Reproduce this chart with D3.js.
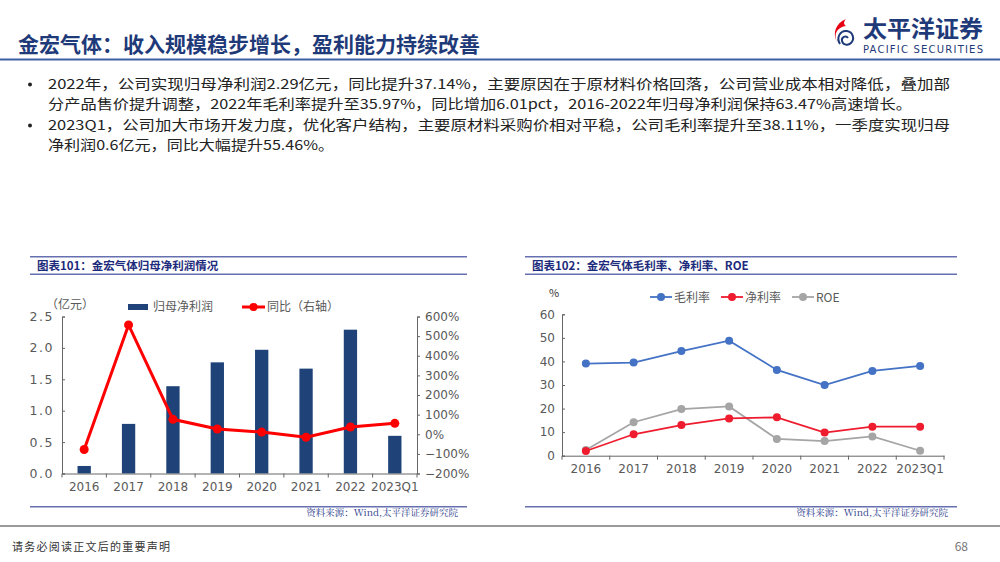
<!DOCTYPE html>
<html>
<head>
<meta charset="utf-8">
<script src="https://cdn.jsdelivr.net/npm/d3@7"></script>
<style>
  body { margin: 0; background: #fff; }
  svg { display: block; font-family: "Noto Sans CJK SC", "Noto Sans", sans-serif; }
</style>
</head>
<body>
<svg id="page" width="1000" height="562"></svg>
<script>
// data
var years = ['2016', '2017', '2018', '2019', '2020', '2021', '2022', '2023Q1'];
var netProfit = [0.12, 0.79, 1.39, 1.77, 1.97, 1.67, 2.29, 0.60];      // 亿元
var profitYoy = [-77.5, 557, 76, 27, 11, -15.5, 37.14, 55.46];         // %
var grossMargin = [39.1, 39.5, 44.4, 48.8, 36.4, 30.0, 35.97, 38.11];
var netMargin = [2.0, 9.1, 13.0, 15.8, 16.3, 9.8, 12.3, 12.3];
var roe = [2.4, 14.2, 19.8, 20.9, 7.1, 6.2, 8.2, 2.1];
var leftTicks = [0, 0.5, 1.0, 1.5, 2.0, 2.5];
var rightTicks = [-200, -100, 0, 100, 200, 300, 400, 500, 600];
var pctTicks = [0, 10, 20, 30, 40, 50, 60];

var bullets = [
  ['2022年，公司实现归母净利润2.29亿元，同比提升37.14%，主要原因在于原材料价格回落，公司营业成本相对降低，叠加部',
   '分产品售价提升调整，2022年毛利率提升至35.97%，同比增加6.01pct，2016-2022年归母净利润保持63.47%高速增长。'],
  ['2023Q1，公司加大市场开发力度，优化客户结构，主要原材料采购价相对平稳，公司毛利率提升至38.11%，一季度实现归母',
   '净利润0.6亿元，同比大幅提升55.46%。']
];
// rendered widths of each bullet line, so the wrap matches the page
var lineWidths = [[902, 864], [902, 286]];

var navy = '#1f3a78';
var tickColor = '#595959';
var svg = d3.select('#page');

// ---------- header ----------
svg.append('text')
    .attr('x', 18).attr('y', 52)
    .attr('font-size', 21).attr('font-weight', 'bold')
    .attr('fill', navy)
    .text('金宏气体：收入规模稳步增长，盈利能力持续改善');

svg.append('rect')
    .attr('x', 0).attr('y', 58.5).attr('width', 1000).attr('height', 2)
    .attr('fill', '#3d5fa3');

// logo
var logo = svg.append('g');
logo.append('path')
    .attr('d', 'M846,19 C836,23 832,33 837,42 C833,33 838,27 846,26 C843,24 844,21 846,19 Z')
    .attr('fill', '#e60012');
logo.append('path')
    .attr('d', 'M840,44 C836,38 840,30 847,31 C853,32 855,39 851,43 C848,46 843,45 842,41 C841,37 846,35 848,38')
    .attr('fill', 'none').attr('stroke', '#1f3a78').attr('stroke-width', 2);
logo.append('text')
    .attr('x', 863).attr('y', 37)
    .attr('font-size', 23).attr('font-weight', 'bold')
    .attr('textLength', 120).attr('lengthAdjust', 'spacingAndGlyphs')
    .attr('fill', navy)
    .text('太平洋证券');
logo.append('text')
    .attr('x', 863).attr('y', 52.5)
    .attr('font-size', 10).attr('font-family', 'DejaVu Sans')
    .attr('textLength', 120).attr('lengthAdjust', 'spacing')
    .attr('fill', navy)
    .text('PACIFIC SECURITIES');

// ---------- bullets ----------
var bulletY = [89, 130];
bullets.forEach(function(lines, i) {
  svg.append('circle')
      .attr('cx', 30).attr('cy', bulletY[i] - 4.5).attr('r', 2)
      .attr('fill', '#222');
  lines.forEach(function(line, j) {
    svg.append('text')
        .attr('x', 48).attr('y', bulletY[i] + j * 20)
        .attr('font-size', 13.5)
        .attr('fill', '#222')
        .attr('textLength', lineWidths[i][j]).attr('lengthAdjust', 'spacingAndGlyphs')
        .text(line);
  });
});

// ---------- panel frames ----------
function panelFrame(x0, x1, title) {
  svg.append('rect').attr('x', x0).attr('y', 256).attr('width', x1 - x0).attr('height', 1.5).attr('fill', '#6670b0');
  svg.append('rect').attr('x', x0).attr('y', 273.5).attr('width', x1 - x0).attr('height', 1.5).attr('fill', '#6670b0');
  svg.append('rect').attr('x', x0).attr('y', 506).attr('width', x1 - x0).attr('height', 1.5).attr('fill', '#6670b0');
  svg.append('text')
      .attr('x', x0 + 7).attr('y', 270)
      .attr('font-size', 11.5).attr('font-weight', 'bold')
      .attr('fill', '#1d2b7c')
      .text(title);
  svg.append('text')
      .attr('x', x1 - 9).attr('y', 516)
      .attr('text-anchor', 'end')
      .attr('font-size', 9.5)
      .attr('font-family', '"Noto Serif CJK SC", "Noto Sans CJK SC", serif')
      .attr('fill', '#2a3a8a')
      .text('资料来源：Wind,太平洋证券研究院');
}
panelFrame(30, 467, '图表101：金宏气体归母净利润情况');
panelFrame(525, 957, '图表102：金宏气体毛利率、净利率、ROE');

// ---------- left chart ----------
var x1 = d3.scaleBand().domain(years).range([62, 417]);
var yL = d3.scaleLinear().domain([0, 2.5]).range([473.5, 316.5]);
var yR = d3.scaleLinear().domain([-200, 600]).range([473.5, 316.5]);

var gL = svg.append('g').attr('font-size', 12);

gL.selectAll('rect.bar')
    .data(netProfit)
    .enter().append('rect')
    .attr('class', 'bar')
    .attr('x', function(d, i) { return x1(years[i]) + x1.bandwidth() * 0.35; })
    .attr('width', x1.bandwidth() * 0.3)
    .attr('y', function(d) { return yL(d); })
    .attr('height', function(d) { return yL(0) - yL(d); })
    .attr('fill', '#1f4378');

var axL = gL.append('g').attr('transform', 'translate(62,0)')
    .call(d3.axisLeft(yL).tickValues(leftTicks).tickSize(-3).tickPadding(8).tickFormat(d3.format('.1f')));
var axR = gL.append('g').attr('transform', 'translate(417,0)')
    .call(d3.axisRight(yR).tickValues(rightTicks).tickSize(3).tickPadding(5)
      .tickFormat(function(d) { return (d < 0 ? '−' : '') + Math.abs(d) + '%'; }));
var axB = gL.append('g').attr('transform', 'translate(0,473.5)')
    .call(d3.axisBottom(x1).tickSize(0).tickPadding(9));
axB.selectAll('.tick').append('line')
    .attr('x1', -x1.bandwidth() / 2).attr('x2', -x1.bandwidth() / 2)
    .attr('y1', 0).attr('y2', 4).attr('stroke', '#666');
axB.append('line').attr('x1', 417).attr('x2', 417).attr('y1', 0).attr('y2', 4).attr('stroke', '#666');

[axL, axR, axB].forEach(function(a) {
  a.select('.domain').attr('stroke', '#666');
  a.selectAll('.tick line').attr('stroke', '#666');
  a.selectAll('.tick text').attr('fill', tickColor).attr('font-size', 12)
      .attr('font-family', '"DejaVu Sans", sans-serif');
});
axL.selectAll('.tick text').attr('font-size', 12.5).attr('letter-spacing', 1.5);

var lineL = d3.line()
    .x(function(d, i) { return x1(years[i]) + x1.bandwidth() / 2; })
    .y(function(d) { return yR(d); });
gL.append('path').datum(profitYoy)
    .attr('d', lineL)
    .attr('fill', 'none').attr('stroke', '#ff0000').attr('stroke-width', 3);
gL.selectAll('circle.yoy').data(profitYoy).enter().append('circle')
    .attr('class', 'yoy')
    .attr('cx', function(d, i) { return x1(years[i]) + x1.bandwidth() / 2; })
    .attr('cy', function(d) { return yR(d); })
    .attr('r', 4.5).attr('fill', '#ff0000');

// left legend
gL.append('text').attr('x', 46).attr('y', 309).attr('fill', tickColor).attr('font-size', 12).text('（亿元）');
gL.append('rect').attr('x', 128).attr('y', 304).attr('width', 20).attr('height', 6).attr('fill', '#1f4378');
gL.append('text').attr('x', 153).attr('y', 311).attr('fill', tickColor).attr('font-size', 12).text('归母净利润');
gL.append('line').attr('x1', 242).attr('x2', 265).attr('y1', 307).attr('y2', 307).attr('stroke', '#ff0000').attr('stroke-width', 3);
gL.append('circle').attr('cx', 253.5).attr('cy', 307).attr('r', 4).attr('fill', '#ff0000');
gL.append('text').attr('x', 267).attr('y', 311).attr('fill', tickColor).attr('font-size', 12).text('同比（右轴）');

// ---------- right chart ----------
var x2 = d3.scaleBand().domain(years).range([562, 944]);
var y2 = d3.scaleLinear().domain([0, 60]).range([455.7, 314.3]);

var gR = svg.append('g');
var ax2L = gR.append('g').attr('transform', 'translate(562,0)')
    .call(d3.axisLeft(y2).tickValues(pctTicks).tickSize(-3).tickPadding(7));
var ax2B = gR.append('g').attr('transform', 'translate(0,455.7)')
    .call(d3.axisBottom(x2).tickSize(0).tickPadding(9));
ax2B.selectAll('.tick').append('line')
    .attr('x1', -x2.bandwidth() / 2).attr('x2', -x2.bandwidth() / 2)
    .attr('y1', 0).attr('y2', 4).attr('stroke', '#666');
ax2B.append('line').attr('x1', 944).attr('x2', 944).attr('y1', 0).attr('y2', 4).attr('stroke', '#666');
[ax2L, ax2B].forEach(function(a) {
  a.select('.domain').attr('stroke', '#666');
  a.selectAll('.tick line').attr('stroke', '#666');
  a.selectAll('.tick text').attr('fill', tickColor).attr('font-size', 12)
      .attr('font-family', '"DejaVu Sans", sans-serif');
});

var series = [
  { name: '毛利率', values: grossMargin, color: '#4472c4' },
  { name: '净利率', values: netMargin, color: '#ee1c2e' },
  { name: 'ROE', values: roe, color: '#a5a5a5' }
];
var line2 = d3.line()
    .x(function(d, i) { return x2(years[i]) + x2.bandwidth() / 2; })
    .y(function(d) { return y2(d); });

// draw gray first so that blue/red sit on top like the source
[series[2], series[1], series[0]].forEach(function(s) {
  gR.append('path').datum(s.values)
      .attr('d', line2)
      .attr('fill', 'none').attr('stroke', s.color).attr('stroke-width', 1.8);
  gR.selectAll(null).data(s.values).enter().append('circle')
      .attr('cx', function(d, i) { return x2(years[i]) + x2.bandwidth() / 2; })
      .attr('cy', function(d) { return y2(d); })
      .attr('r', 4).attr('fill', s.color);
});

gR.append('text').attr('x', 549).attr('y', 297).attr('fill', '#333').attr('font-size', 11).text('%');
var legX = [650, 721, 792];
series.forEach(function(s, i) {
  gR.append('line').attr('x1', legX[i]).attr('x2', legX[i] + 22).attr('y1', 297).attr('y2', 297)
      .attr('stroke', s.color).attr('stroke-width', 1.8);
  gR.append('circle').attr('cx', legX[i] + 11).attr('cy', 297).attr('r', 4).attr('fill', s.color);
  gR.append('text').attr('x', legX[i] + 24).attr('y', 301.5)
      .attr('fill', tickColor).attr('font-size', 12)
      .text(s.name);
});

// ---------- footer ----------
svg.append('rect').attr('x', 0).attr('y', 525).attr('width', 1000).attr('height', 2).attr('fill', '#9a9a9a');
svg.append('text').attr('x', 12).attr('y', 551).attr('font-size', 11).attr('fill', '#333')
    .attr('textLength', 158).attr('lengthAdjust', 'spacing')
    .text('请务必阅读正文后的重要声明');
svg.append('text').attr('x', 968).attr('y', 551).attr('text-anchor', 'end')
    .attr('font-size', 12).attr('fill', '#777').text('68');
</script>
</body>
</html>
